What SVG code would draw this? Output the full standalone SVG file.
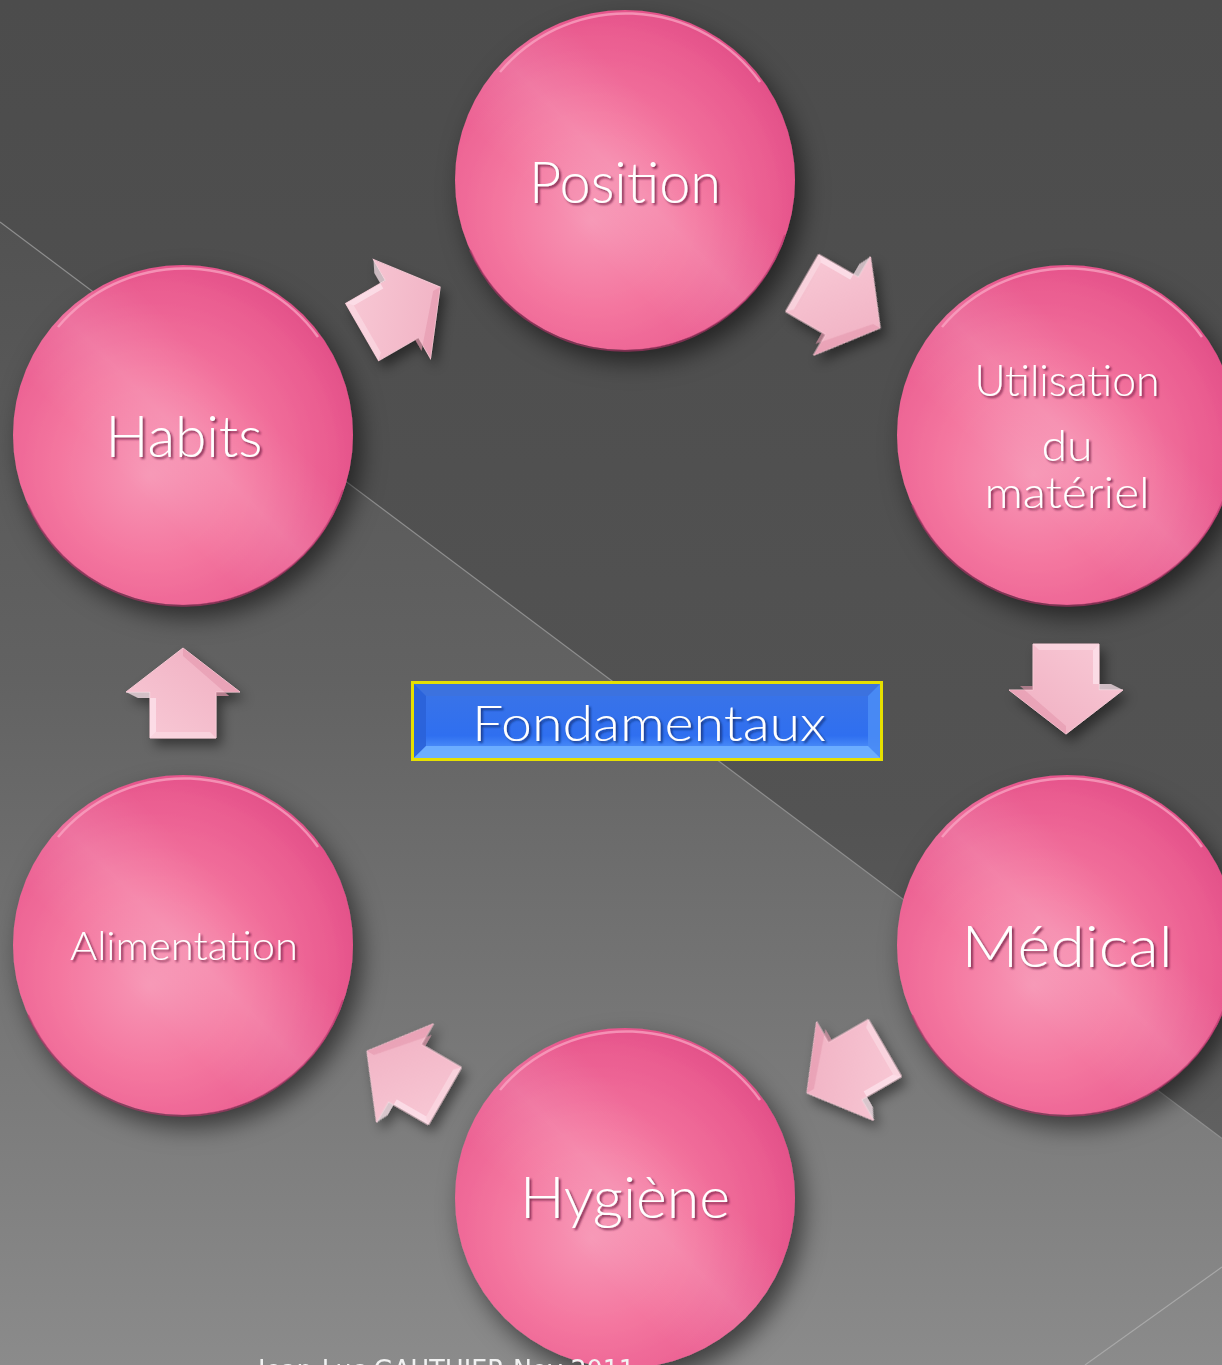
<svg xmlns="http://www.w3.org/2000/svg" xmlns:xlink="http://www.w3.org/1999/xlink" width="1222" height="1365" viewBox="0 0 1222 1365">
<defs>
<linearGradient id="bgTop" x1="0" y1="0" x2="0" y2="1">
<stop offset="0" stop-color="#4c4c4c"/><stop offset="0.6" stop-color="#535353"/><stop offset="1" stop-color="#6a6a6a"/>
</linearGradient>
<linearGradient id="bgLow" gradientUnits="userSpaceOnUse" x1="0" y1="222" x2="0" y2="1365">
<stop offset="0" stop-color="#525252"/><stop offset="0.4" stop-color="#626262"/><stop offset="1" stop-color="#8b8b8b"/>
</linearGradient>
<radialGradient id="pink" cx="0.42" cy="0.58" r="0.62" fx="0.4" fy="0.62">
<stop offset="0" stop-color="#f796b5"/><stop offset="0.45" stop-color="#f4769f"/><stop offset="0.85" stop-color="#ea5c90"/><stop offset="1" stop-color="#e24f88"/>
</radialGradient>
<linearGradient id="sheen" x1="0" y1="1" x2="1" y2="0">
<stop offset="0.35" stop-color="#ffffff" stop-opacity="0"/><stop offset="0.5" stop-color="#ffffff" stop-opacity="0.12"/><stop offset="0.65" stop-color="#ffffff" stop-opacity="0"/>
</linearGradient>
<linearGradient id="arrowFill" x1="0" y1="0" x2="1" y2="1">
<stop offset="0" stop-color="#f9cbd7"/><stop offset="1" stop-color="#efadc0"/>
</linearGradient>
<linearGradient id="boxBlue" x1="0" y1="0" x2="0" y2="1">
<stop offset="0" stop-color="#3b74e6"/><stop offset="0.7" stop-color="#2f6ff0"/><stop offset="1" stop-color="#5fa4ff"/>
</linearGradient>
<filter id="shadow" x="-30%" y="-30%" width="160%" height="160%">
<feDropShadow dx="8" dy="12" stdDeviation="12" flood-color="#000" flood-opacity="0.55"/>
</filter>
<filter id="ashadow" x="-30%" y="-30%" width="160%" height="160%">
<feDropShadow dx="5" dy="7" stdDeviation="6" flood-color="#000" flood-opacity="0.45"/>
</filter>
<filter id="tshadow" x="-10%" y="-20%" width="120%" height="140%">
<feDropShadow dx="2" dy="2" stdDeviation="1.2" flood-color="#6a1a3c" flood-opacity="0.8"/>
</filter>
<filter id="tshadowB" x="-10%" y="-20%" width="120%" height="140%">
<feDropShadow dx="2" dy="2" stdDeviation="1.2" flood-color="#102a70" flood-opacity="0.8"/>
</filter>
<g id="arrow">
<polygon points="-46,-33 0,-33 0,-57 44,0 0,57 0,33 -46,33" fill="url(#arrowFill)" stroke="#f7c9d5" stroke-width="1"/>
<polygon points="-46,-33 0,-33 0,-57 -6,-45 -6,-27 -40,-27" fill="#fde6ee" opacity="0.7"/>
<polygon points="0,57 44,0 36,0 -4,46 -4,33 0,33" fill="#e597ad" opacity="0.6"/>
<polygon points="-46,33 -40,27 -40,-27 -46,-33" fill="#fbdde6" opacity="0.6"/>
</g>
<style>
.node circle.body{fill:url(#pink);}
.lbl{font-family:"Lato","Open Sans","DejaVu Sans",sans-serif;font-weight:300;fill:#ffffff;text-anchor:middle;filter:url(#tshadow);}
.rim{fill:none;stroke:#fba9c6;stroke-width:2.5;opacity:0.7;}
.edge{fill:none;stroke:#b8346a;stroke-width:2;opacity:0.6;}
</style>
</defs>

<!-- background -->
<rect x="0" y="0" width="1222" height="1365" fill="url(#bgTop)"/>
<polygon points="0,222 1222,1138.5 1222,1365 0,1365" fill="url(#bgLow)"/>
<line x1="0" y1="222" x2="1222" y2="1138.5" stroke="#8e8e8e" stroke-width="1.2"/>
<line x1="1085" y1="1365" x2="1222" y2="1267" stroke="#a8a8a8" stroke-width="1.2"/>

<!-- connectors -->
<g id="connectors" filter="url(#ashadow)">
<use xlink:href="#arrow" transform="translate(402,309) rotate(-30)"/>
<use xlink:href="#arrow" transform="translate(842,306) rotate(30)"/>
<use xlink:href="#arrow" transform="translate(1066,690) rotate(90)"/>
<use xlink:href="#arrow" transform="translate(845,1071) rotate(150)"/>
<use xlink:href="#arrow" transform="translate(405,1073) rotate(210)"/>
<use xlink:href="#arrow" transform="translate(183,692) rotate(-90)"/>
</g>

<!-- nodes -->
<g id="node-position" class="node">
<circle class="body" cx="625" cy="180" r="170" filter="url(#shadow)"/>
<circle cx="625" cy="180" r="170" fill="url(#sheen)"/>
<path class="rim" d="M 500 72 A 165 165 0 0 1 760 82"/>
<path class="edge" d="M 470 250 A 169 169 0 0 0 785 235"/>
<text class="lbl" x="625" y="203" font-size="58" textLength="192" lengthAdjust="spacingAndGlyphs">Position</text>
</g>

<g id="node-utilisation" class="node">
<circle class="body" cx="1067" cy="435" r="170" filter="url(#shadow)"/>
<circle cx="1067" cy="435" r="170" fill="url(#sheen)"/>
<path class="rim" d="M 942 327 A 165 165 0 0 1 1202 337"/>
<path class="edge" d="M 912 505 A 169 169 0 0 0 1227 490"/>
<text class="lbl" x="1067" y="396" font-size="44" textLength="185" lengthAdjust="spacingAndGlyphs">Utilisation</text>
<text class="lbl" x="1067" y="461" font-size="44" textLength="51" lengthAdjust="spacingAndGlyphs">du</text>
<text class="lbl" x="1067" y="508" font-size="44" textLength="165" lengthAdjust="spacingAndGlyphs">matériel</text>
</g>

<g id="node-medical" class="node">
<circle class="body" cx="1067" cy="945" r="170" filter="url(#shadow)"/>
<circle cx="1067" cy="945" r="170" fill="url(#sheen)"/>
<path class="rim" d="M 942 837 A 165 165 0 0 1 1202 847"/>
<path class="edge" d="M 912 1015 A 169 169 0 0 0 1227 1000"/>
<text class="lbl" x="1067" y="967" font-size="58" textLength="211" lengthAdjust="spacingAndGlyphs">Médical</text>
</g>

<g id="node-hygiene" class="node">
<circle class="body" cx="625" cy="1198" r="170" filter="url(#shadow)"/>
<circle cx="625" cy="1198" r="170" fill="url(#sheen)"/>
<path class="rim" d="M 500 1090 A 165 165 0 0 1 760 1100"/>
<text class="lbl" x="625" y="1218" font-size="58" textLength="210" lengthAdjust="spacingAndGlyphs">Hygiène</text>
</g>

<g id="node-alimentation" class="node">
<circle class="body" cx="183" cy="945" r="170" filter="url(#shadow)"/>
<circle cx="183" cy="945" r="170" fill="url(#sheen)"/>
<path class="rim" d="M 58 837 A 165 165 0 0 1 318 847"/>
<path class="edge" d="M 28 1015 A 169 169 0 0 0 343 1000"/>
<text class="lbl" x="184" y="960" font-size="39" textLength="228" lengthAdjust="spacingAndGlyphs">Alimentation</text>
</g>

<g id="node-habits" class="node">
<circle class="body" cx="183" cy="435" r="170" filter="url(#shadow)"/>
<circle cx="183" cy="435" r="170" fill="url(#sheen)"/>
<path class="rim" d="M 58 327 A 165 165 0 0 1 318 337"/>
<path class="edge" d="M 28 505 A 169 169 0 0 0 343 490"/>
<text class="lbl" x="184" y="457" font-size="58" textLength="157" lengthAdjust="spacingAndGlyphs">Habits</text>
</g>

<g id="node-fondamentaux">
<rect x="411" y="681" width="472" height="80" fill="#e6e000"/>
<rect x="414" y="684" width="466" height="74" fill="url(#boxBlue)"/>
<polygon points="414,684 880,684 868,696 426,696" fill="#3d72dc" opacity="0.8"/>
<polygon points="414,684 426,696 426,746 414,758" fill="#2a62d8" opacity="0.9"/>
<polygon points="880,684 868,696 868,746 880,758" fill="#4a8cf5" opacity="0.9"/>
<polygon points="414,758 426,746 868,746 880,758" fill="#6fb0ff" opacity="0.9"/>
<text x="649" y="741" font-family="Lato, 'Open Sans', 'DejaVu Sans', sans-serif" font-weight="300" font-size="50" fill="#ffffff" text-anchor="middle" textLength="354" lengthAdjust="spacingAndGlyphs" filter="url(#tshadowB)">Fondamentaux</text>
</g>

<text x="258" y="1379" font-family="'DejaVu Sans', sans-serif" font-size="26" fill="#f2f2f2" textLength="377" lengthAdjust="spacingAndGlyphs">Jean-Luc GAUTHIER  Nov 2011</text>
</svg>
